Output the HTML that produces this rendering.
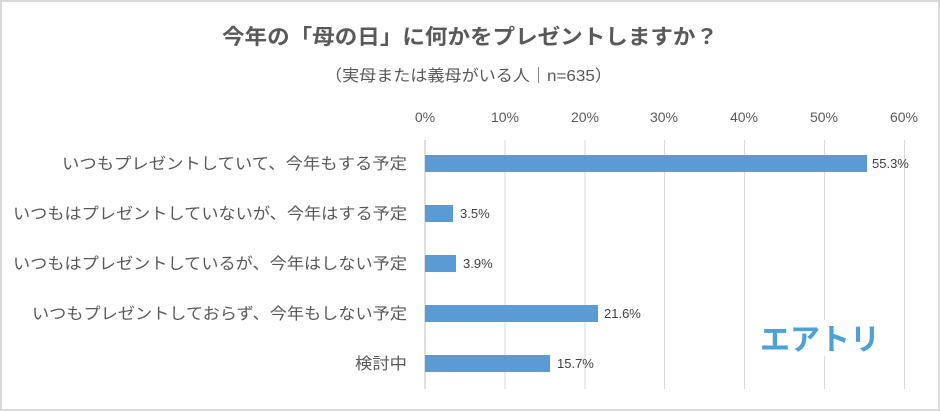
<!DOCTYPE html>
<html><head><meta charset="utf-8"><style>
body{margin:0;background:#fff;}
svg{display:block;font-family:"Liberation Sans","Noto Sans CJK JP",sans-serif;}
</style></head><body>
<svg width="940" height="411" viewBox="0 0 940 411">
<rect x="1" y="1" width="938" height="409" fill="#fff" stroke="#d9d9d9" stroke-width="2"/>
<text x="222" y="44" font-size="21" font-weight="bold" fill="#595959" textLength="496" lengthAdjust="spacingAndGlyphs">今年の「母の日」に何かをプレゼントしますか？</text>
<text x="325" y="81" font-size="16" fill="#595959" textLength="287" lengthAdjust="spacingAndGlyphs">（実母または義母がいる人｜n=635）</text>
<g stroke="#d9d9d9" stroke-width="1">
<line x1="505" y1="140" x2="505" y2="389"/><line x1="585" y1="140" x2="585" y2="389"/>
<line x1="664.5" y1="140" x2="664.5" y2="389"/><line x1="744.5" y1="140" x2="744.5" y2="389"/>
<line x1="824.5" y1="140" x2="824.5" y2="389"/><line x1="904.5" y1="140" x2="904.5" y2="389"/>
</g>
<line x1="425" y1="140" x2="425" y2="389" stroke="#bfbfbf"/>
<g font-size="14" fill="#595959" text-anchor="middle">
<text x="425" y="122">0%</text><text x="505" y="122">10%</text><text x="585" y="122">20%</text>
<text x="664" y="122">30%</text><text x="744" y="122">40%</text><text x="824" y="122">50%</text><text x="904" y="122">60%</text>
</g>
<g fill="#5b9bd5">
<rect x="425" y="155" width="442" height="17"/>
<rect x="425" y="205" width="28" height="17"/>
<rect x="425" y="255" width="31" height="17"/>
<rect x="425" y="305" width="173" height="17"/>
<rect x="425" y="355" width="125" height="17"/>
</g>
<g font-size="13" fill="#404040">
<text x="872" y="168">55.3%</text><text x="460" y="218">3.5%</text><text x="463" y="268">3.9%</text>
<text x="604" y="318">21.6%</text><text x="557" y="368">15.7%</text>
</g>
<g font-size="16" fill="#595959" lengthAdjust="spacingAndGlyphs">
<text x="62" y="169" textLength="345" lengthAdjust="spacingAndGlyphs">いつもプレゼントしていて、今年もする予定</text>
<text x="13" y="219" textLength="394" lengthAdjust="spacingAndGlyphs">いつもはプレゼントしていないが、今年はする予定</text>
<text x="13" y="269" textLength="394" lengthAdjust="spacingAndGlyphs">いつもはプレゼントしているが、今年はしない予定</text>
<text x="32" y="319" textLength="375" lengthAdjust="spacingAndGlyphs">いつもプレゼントしておらず、今年もしない予定</text>
<text x="355" y="369" textLength="52" lengthAdjust="spacingAndGlyphs">検討中</text>
</g>
<rect x="760" y="320" width="120" height="36" fill="#fff"/>
<text x="820" y="350" text-anchor="middle" font-size="30" font-weight="bold" fill="#4aa3d8">エアトリ</text>
</svg>
</body></html>
